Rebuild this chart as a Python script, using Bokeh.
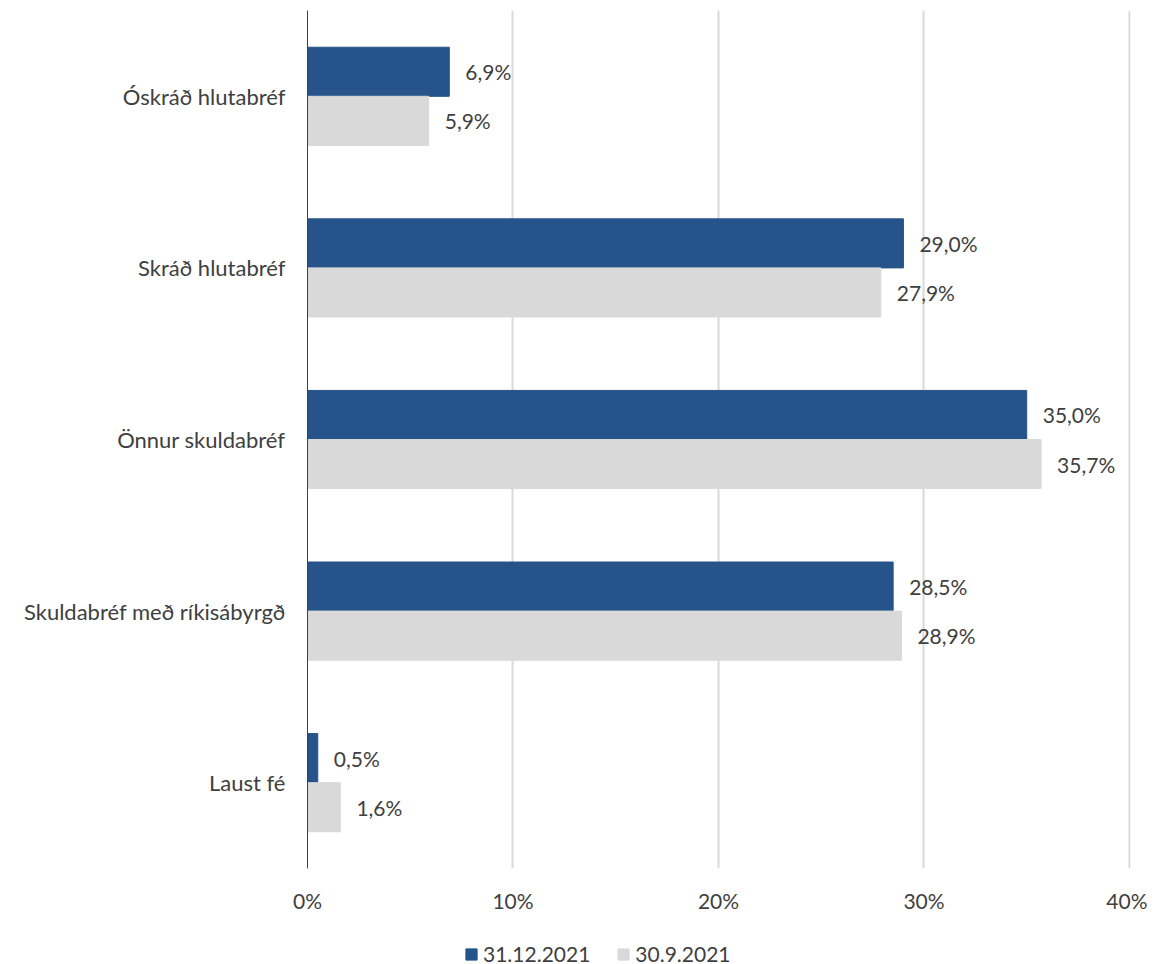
from bokeh.plotting import figure
from bokeh.layouts import column
from bokeh.models import ColumnDataSource, FactorRange, Range1d, Legend, LegendItem, FixedTicker, LabelSet
from bokeh.transform import dodge
from bokeh.core.properties import value
from bokeh.embed import file_html
from bokeh.resources import INLINE

categories = ["Óskráð hlutabréf", "Skráð hlutabréf", "Önnur skuldabréf",
              "Skuldabréf með ríkisábyrgð", "Laust fé"]
series_names = ["31.12.2021", "30.9.2021"]
values_dec = [6.9, 29.0, 35.0, 28.5, 0.5]
values_sep = [5.9, 27.9, 35.7, 28.9, 1.6]
x_ticks = [0, 10, 20, 30, 40]
x_tick_labels = {0: "0%", 10: "10%", 20: "20%", 30: "30%", 40: "40%"}

FONT = "Lato"
TXT = "#404040"
DARK = "#26548A"
LIGHT = "#D9D9D9"
FS = "21px"

src = ColumnDataSource(dict(
    cat=categories,
    dec=values_dec,
    sep=values_sep,
    dec_lbl=[f"{v:.1f}%".replace(".", ",") for v in values_dec],
    sep_lbl=[f"{v:.1f}%".replace(".", ",") for v in values_sep],
))

p = figure(frame_width=823, frame_height=858, output_backend="svg", toolbar_location=None,
           y_range=FactorRange(factors=categories[::-1], range_padding=0),
           x_range=Range1d(0, 40.05),
           min_border_left=307, min_border_right=17, min_border_top=10, min_border_bottom=62)
p.outline_line_color = None
p.background_fill_color = "white"

h = 0.286
r1 = p.hbar(y=dodge("cat", 0.143, range=p.y_range), right="dec", height=h, left=0,
            color=DARK, source=src)
r2 = p.hbar(y=dodge("cat", -0.143, range=p.y_range), right="sep", height=h, left=0,
            color=LIGHT, source=src)

for col, lbl, off in (("dec", "dec_lbl", 0.143), ("sep", "sep_lbl", -0.143)):
    ls = LabelSet(x=col, y=dodge("cat", off, range=p.y_range), text=lbl, source=src,
                  x_offset=16, text_align="left", text_baseline="middle",
                  text_font=value(FONT), text_font_size=FS, text_color=TXT)
    p.add_layout(ls)

# x axis
p.xaxis.ticker = FixedTicker(ticks=x_ticks)
p.xaxis.major_label_overrides = x_tick_labels
p.xaxis.axis_line_color = None
p.xaxis.major_tick_line_color = None
p.xaxis.minor_tick_line_color = None
p.xaxis.major_label_standoff = 13
p.xaxis.major_label_text_font = FONT
p.xaxis.major_label_text_font_size = FS
p.xaxis.major_label_text_color = TXT

# y axis
p.yaxis.axis_line_color = "#404040"
p.yaxis.axis_line_width = 1
p.yaxis.major_tick_line_color = None
p.yaxis.minor_tick_line_color = None
p.yaxis.major_label_standoff = 16
p.yaxis.major_label_text_font = FONT
p.yaxis.major_label_text_font_size = "22px"
p.yaxis.major_label_text_color = TXT

p.ygrid.grid_line_color = None
p.xgrid.grid_line_color = LIGHT
p.xgrid.grid_line_width = 2

# legend strip below the chart (legend-only swatches, nothing drawn in the strip)
lf = figure(width=1147, height=40, output_backend="svg", toolbar_location=None,
            x_range=Range1d(0, 1), y_range=Range1d(0, 1),
            x_axis_type=None, y_axis_type=None,
            min_border=0, min_border_left=0, min_border_right=0,
            min_border_top=0, min_border_bottom=0)
lf.outline_line_color = None
lf.xgrid.visible = False
lf.ygrid.visible = False
nan_src = ColumnDataSource(dict(y=[float("nan")], right=[float("nan")]))
d1 = lf.hbar(y="y", right="right", height=0.1, color=DARK, source=nan_src)
d2 = lf.hbar(y="y", right="right", height=0.1, color=LIGHT, source=nan_src)
legend = Legend(items=[LegendItem(label=series_names[0], renderers=[d1], index=0),
                       LegendItem(label=series_names[1], renderers=[d2], index=0)],
                orientation="horizontal", location=(157, 4),
                label_text_font=FONT, label_text_font_size=FS, label_text_color=TXT,
                glyph_width=14, glyph_height=14, label_standoff=5, spacing=26,
                border_line_color=None, background_fill_alpha=0, padding=0, margin=0)
lf.add_layout(legend, "center")

layout = column(p, lf, spacing=0)
open("out.html", "w").write(file_html(layout, INLINE))
